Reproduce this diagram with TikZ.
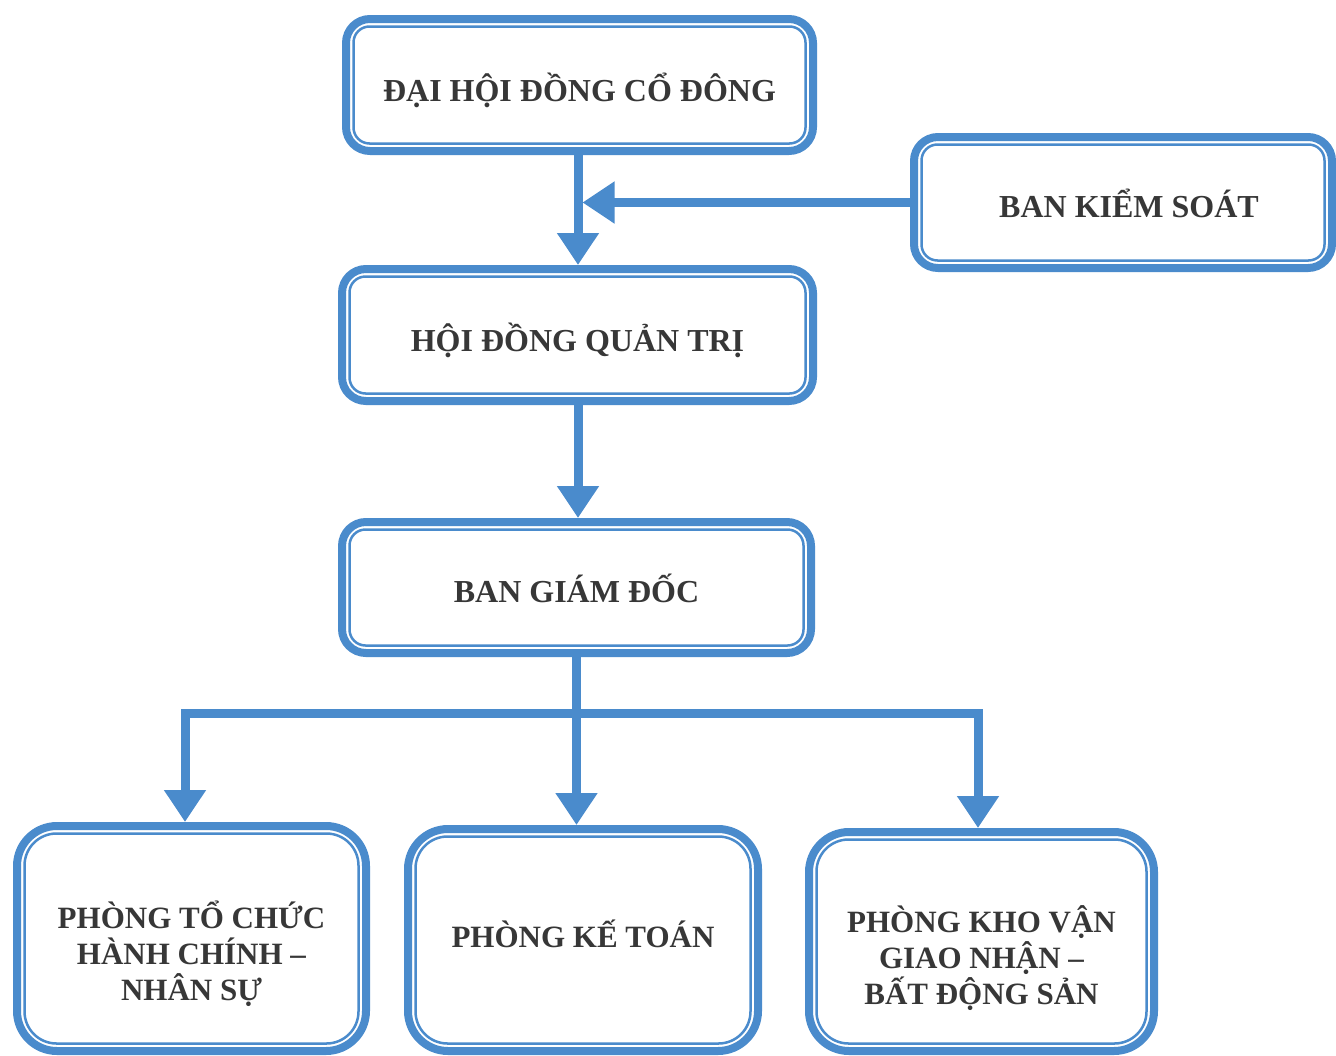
\documentclass[tikz,border=0pt]{standalone}
\usepackage{fontspec}
\setmainfont{Liberation Serif}
\usetikzlibrary{arrows.meta}
\definecolor{bl}{RGB}{74,139,204}
\definecolor{txt}{RGB}{55,55,55}
\begin{document}
\begin{tikzpicture}[x=1pt,y=-1pt,
  box/.style={draw=bl, line width=8pt, fill=white, align=center, inner sep=0pt, outer sep=0pt,
    text=txt, font=\fontsize{32}{36}\selectfont\bfseries, text depth=0pt},
  topbox/.style={box, rounded corners=24pt},
  lowbox/.style={box, rounded corners=40pt, font=\fontsize{31}{36}\selectfont\bfseries},
  innerline/.style={draw=bl, line width=2.5pt},
  conn/.style={draw=bl, line width=9pt},
  arr/.style={conn, -{Triangle[width=40pt,length=32pt]}}]
\fill[white] (0,0) rectangle (1336,1055);
\useasboundingbox (0,0) rectangle (1336,1055);

\node[topbox, minimum width=467pt, minimum height=132pt, text height=33.2pt] (dh) at (579.5,85) {ĐẠI HỘI ĐỒNG CỔ ĐÔNG};
\node[topbox, minimum width=418pt, minimum height=131pt, text height=30.2pt] (ks) at (1123,202.5) {\hspace*{12pt}BAN KIỂM SOÁT};
\node[topbox, minimum width=471pt, minimum height=132pt, text height=33.2pt] (hd) at (577.5,335) {HỘI ĐỒNG QUẢN TRỊ};
\node[topbox, minimum width=469pt, minimum height=131pt, text height=30.2pt] (bgd) at (576.5,587.5) {BAN GIÁM ĐỐC};
\node[lowbox, minimum width=349pt, minimum height=225pt, text height=123.5pt] (p1) at (191.5,938.5) {PHÒNG TỔ CHỨC\\HÀNH CHÍNH –\\NHÂN SỰ};
\node[lowbox, minimum width=350pt, minimum height=222pt, text height=14.5pt] (p2) at (583,940) {PHÒNG KẾ TOÁN};
\node[lowbox, minimum width=345pt, minimum height=219pt, text height=125.5pt] (p3) at (981.5,941.5) {PHÒNG KHO VẬN\\GIAO NHẬN –\\BẤT ĐỘNG SẢN};

\foreach \n in {dh,ks,hd,bgd}
  \draw[innerline, rounded corners=16pt] ([shift={(7.5,7.5)}]\n.north west) rectangle ([shift={(-7.5,-7.5)}]\n.south east);
\foreach \n in {p1,p2,p3}
  \draw[innerline, rounded corners=32pt] ([shift={(7.5,7.5)}]\n.north west) rectangle ([shift={(-7.5,-7.5)}]\n.south east);

% connectors
\coordinate (t1) at (578,0);
\coordinate (j) at (t1 |- ks.west);
\draw[arr] (t1 |- dh.south) -- ([yshift=4pt]t1 |- hd.north);
\draw[arr] (ks.west) -- ([xshift=4.5pt]j);
\draw[arr] (t1 |- hd.south) -- ([yshift=4pt]t1 |- bgd.north);

\coordinate (bL) at (185,713);
\coordinate (bR) at (978,713);
\coordinate (bM) at (bgd.south |- bL);
\draw[conn] (bgd.south) -- (bM);
\draw[conn, line cap=rect] (bL) -- (bR);
\draw[arr] (bL) -- ([yshift=4pt]bL |- p1.north);
\draw[arr] (bM) -- ([yshift=4pt]bM |- p2.north);
\draw[arr] (bR) -- ([yshift=4pt]bR |- p3.north);
\end{tikzpicture}
\end{document}
